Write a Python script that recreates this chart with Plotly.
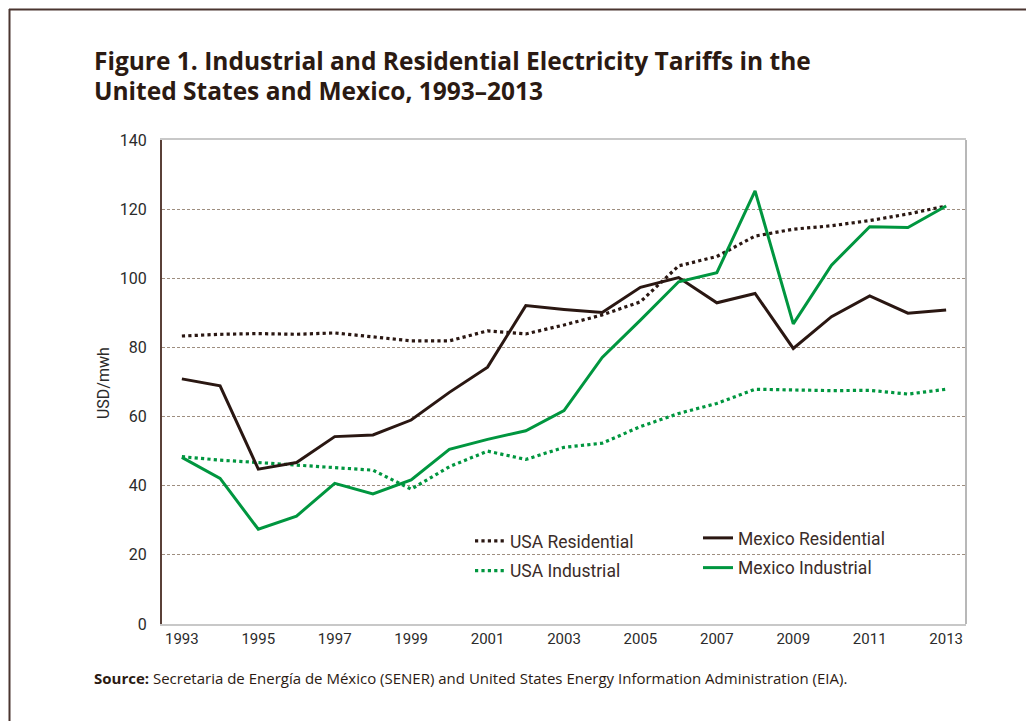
import plotly.graph_objects as go

years = list(range(1993, 2014))
usa_residential = [83.3, 83.8, 84.0, 83.8, 84.2, 83.0, 81.9, 81.9, 84.8, 83.9, 86.5,
                   89.4, 93.2, 103.6, 106.3, 112.2, 114.2, 115.2, 116.7, 118.6, 120.9]
mexico_residential = [70.9, 68.9, 44.8, 46.7, 54.2, 54.7, 59.0, 67.0, 74.3, 92.1, 91.0,
                      90.1, 97.4, 100.2, 92.9, 95.6, 79.7, 88.9, 94.9, 89.9, 90.8]
usa_industrial = [48.4, 47.4, 46.7, 46.0, 45.1, 44.5, 39.0, 45.5, 50.0, 47.6, 51.1,
                  52.3, 57.1, 60.9, 63.8, 67.9, 67.7, 67.5, 67.6, 66.5, 67.9]
mexico_industrial = [48.2, 42.1, 27.4, 31.2, 40.7, 37.6, 41.7, 50.5, 53.4, 55.9, 61.7,
                     77.1, 87.9, 99.0, 101.6, 125.3, 86.8, 103.8, 114.9, 114.7, 120.9]
x_ticks = list(range(1993, 2014, 2))
y_ticks = list(range(0, 141, 20))

BROWN = "#2a1712"
GREEN = "#00963f"
GRID = "#9e8e80"
TICKFONT = "Roboto, sans-serif"

fig = go.Figure()
fig.add_trace(go.Scatter(x=years, y=usa_residential, name="USA Residential", mode="lines",
                         line=dict(color=BROWN, width=3.2, dash="dot"),
                         legend="legend", legendgroup="a"))
fig.add_trace(go.Scatter(x=years, y=usa_industrial, name="USA Industrial", mode="lines",
                         line=dict(color=GREEN, width=3.2, dash="dot"),
                         legend="legend", legendgroup="b"))
fig.add_trace(go.Scatter(x=years, y=mexico_residential, name="Mexico Residential", mode="lines",
                         line=dict(color=BROWN, width=3),
                         legend="legend2", legendgroup="c"))
fig.add_trace(go.Scatter(x=years, y=mexico_industrial, name="Mexico Industrial", mode="lines",
                         line=dict(color=GREEN, width=3),
                         legend="legend2", legendgroup="d"))

# page offset (body margin) compensation
OX, OY = 8, 8
W, H = 1026, 713
L, R, T, B = 162 - OX, 68, 140 - OY, 97
pw, ph = W - L - R, H - T - B


def px(xp):
    return (xp - OX - L) / pw


def py(yp):
    return (H - B - (yp - OY)) / ph


legend_common = dict(bgcolor="rgba(255,255,255,0)", borderwidth=0,
                     font=dict(family=TICKFONT, size=17.5, color="#3b2c28"),
                     traceorder="grouped", tracegroupgap=4,
                     xanchor="left", yanchor="top")

fig.update_layout(
    width=W, height=H,
    margin=dict(l=L, r=R, t=T, b=B),
    paper_bgcolor="white", plot_bgcolor="white",
    showlegend=True,
    legend=dict(x=px(470), y=py(523), **legend_common),
    legend2=dict(x=px(698), y=py(520), **legend_common),
    xaxis=dict(range=[1992.48, 2013.52], tickvals=x_ticks, showgrid=False,
               showline=True, linecolor="#c8c8c8", linewidth=2, mirror=True,
               ticks="", zeroline=False,
               tickfont=dict(family=TICKFONT, size=15, color="#2b2b2b")),
    yaxis=dict(range=[0, 140], tickvals=y_ticks, showgrid=True, gridcolor=GRID,
               gridwidth=1, griddash="3px,2px", zeroline=False,
               showline=True, linecolor="#5a4038", linewidth=2, mirror=False,
               ticks="", ticklabelstandoff=10,
               tickfont=dict(family=TICKFONT, size=16, color="#2b2b2b")),
)

shapes = [
    # white area behind legend interrupting the grid
    dict(type="rect", xref="paper", yref="paper", x0=px(412), x1=px(905), y0=py(590), y1=py(525),
         fillcolor="white", line=dict(width=0), layer="between"),
    # right frame line
    dict(type="line", xref="paper", yref="paper", x0=1, x1=1, y0=0, y1=1,
         line=dict(color="#b8b8b8", width=2)),
    # outer figure border (top and left only)
    dict(type="line", xref="paper", yref="paper", x0=px(9), x1=px(1034), y0=py(9.5), y1=py(9.5),
         line=dict(color="#4a3530", width=2)),
    dict(type="line", xref="paper", yref="paper", x0=px(9.5), x1=px(9.5), y0=py(9), y1=py(721),
         line=dict(color="#4a3530", width=2)),
]
fig.update_layout(shapes=shapes)

TITLEFONT = dict(family="Open Sans, sans-serif", size=24.5, color="#2b1a12")
fig.add_annotation(text="<b>Figure 1. Industrial and Residential Electricity Tariffs in the</b>",
                   xref="paper", yref="paper", x=px(92), y=py(60), xanchor="left", yanchor="middle",
                   showarrow=False, font=TITLEFONT)
fig.add_annotation(text="<b>United States and Mexico, 1993–2013</b>",
                   xref="paper", yref="paper", x=px(92), y=py(91), xanchor="left", yanchor="middle",
                   showarrow=False, font=TITLEFONT)
fig.add_annotation(text="USD/mwh", textangle=-90, xref="paper", yref="paper",
                   x=px(103), y=py(383), xanchor="center", yanchor="middle", showarrow=False,
                   font=dict(family=TICKFONT, size=16, color="#2b2b2b"))
fig.add_annotation(text="<b>Source:</b> Secretaria de Energía de México (SENER) and United States Energy Information Administration (EIA).",
                   xref="paper", yref="paper", x=px(92), y=py(678), xanchor="left", yanchor="middle",
                   showarrow=False, font=dict(family="Open Sans, sans-serif", size=15, color="#2b1a12"))

fig.write_html("out.html")
